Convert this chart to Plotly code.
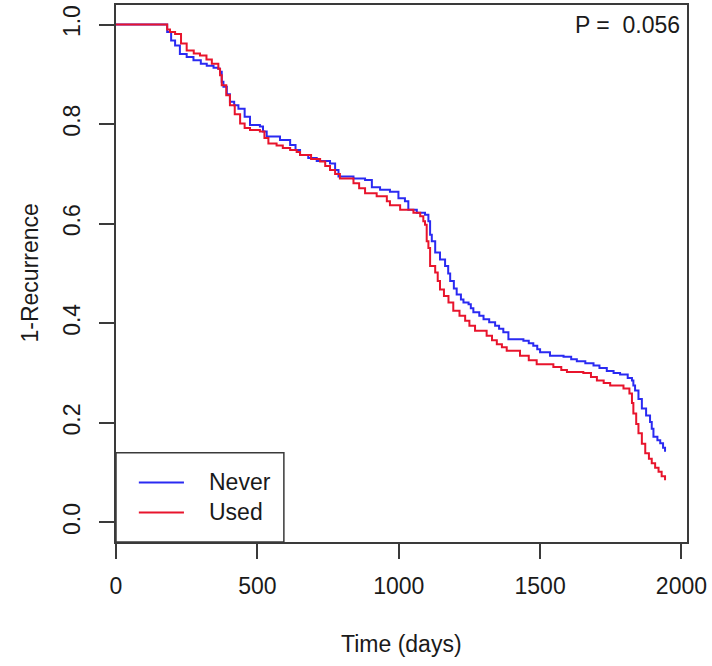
import plotly.graph_objects as go

# ---- data ----
never_t = [0, 181, 195, 209, 226, 250, 274, 300, 321, 345, 362, 368, 374, 380, 392, 403, 418, 433, 455, 474,
           509, 520, 533, 580, 616, 635, 651, 680, 710, 757, 775, 787, 840, 881, 905, 934, 969, 999, 1022, 1034,
           1064, 1093, 1105, 1111, 1117, 1129, 1146, 1164, 1175, 1182, 1195, 1205, 1220, 1229, 1247, 1255, 1264,
           1285, 1300, 1320, 1341, 1355, 1370, 1388, 1441, 1460, 1476, 1490, 1500, 1535, 1583, 1610, 1630, 1660,
           1689, 1710, 1736, 1760, 1783, 1810, 1825, 1830, 1836, 1848, 1860, 1875, 1889, 1895, 1901, 1915, 1925,
           1935, 1942]
never_s = [1.0, 0.985, 0.968, 0.958, 0.941, 0.935, 0.928, 0.921, 0.917, 0.913, 0.911, 0.905, 0.885, 0.875, 0.860,
           0.845, 0.838, 0.831, 0.815, 0.798, 0.795, 0.785, 0.775, 0.768, 0.758, 0.748, 0.738, 0.732, 0.726, 0.721,
           0.708, 0.695, 0.691, 0.688, 0.673, 0.668, 0.664, 0.651, 0.645, 0.628, 0.622, 0.618, 0.605, 0.578, 0.565,
           0.542, 0.528, 0.515, 0.500, 0.485, 0.470, 0.458, 0.448, 0.442, 0.438, 0.430, 0.422, 0.415, 0.408, 0.402,
           0.395, 0.389, 0.382, 0.368, 0.365, 0.360, 0.355, 0.348, 0.342, 0.335, 0.333, 0.328, 0.324, 0.320, 0.315,
           0.310, 0.304, 0.300, 0.297, 0.290, 0.285, 0.275, 0.265, 0.248, 0.229, 0.215, 0.202, 0.188, 0.172, 0.165,
           0.159, 0.150, 0.142]

used_t = [0, 181, 191, 209, 230, 250, 275, 297, 320, 339, 362, 368, 374, 390, 403, 420, 439, 455, 474, 509, 525,
          539, 568, 590, 616, 639, 651, 690, 722, 740, 757, 775, 792, 840, 860, 881, 922, 958, 969, 1005, 1052,
          1076, 1087, 1093, 1099, 1105, 1111, 1129, 1138, 1146, 1160, 1176, 1193, 1215, 1235, 1250, 1270, 1311,
          1330, 1347, 1365, 1382, 1429, 1460, 1488, 1547, 1575, 1595, 1653, 1680, 1701, 1725, 1748, 1795, 1816,
          1825, 1830, 1840, 1848, 1860, 1872, 1885, 1895, 1907, 1919, 1930, 1942]
used_s = [1.0, 0.99, 0.985, 0.981, 0.962, 0.948, 0.942, 0.938, 0.930, 0.921, 0.911, 0.898, 0.878, 0.858, 0.838,
          0.820, 0.801, 0.792, 0.788, 0.785, 0.772, 0.761, 0.757, 0.752, 0.748, 0.744, 0.738, 0.730, 0.725, 0.716,
          0.708, 0.700, 0.691, 0.681, 0.671, 0.661, 0.655, 0.645, 0.637, 0.628, 0.622, 0.615, 0.605, 0.598, 0.565,
          0.551, 0.515, 0.502, 0.485, 0.468, 0.455, 0.442, 0.425, 0.415, 0.405, 0.395, 0.385, 0.375, 0.366, 0.358,
          0.352, 0.345, 0.335, 0.326, 0.318, 0.312, 0.306, 0.302, 0.300, 0.292, 0.285, 0.280, 0.275, 0.269, 0.259,
          0.240, 0.219, 0.198, 0.179, 0.158, 0.139, 0.128, 0.119, 0.110, 0.102, 0.093, 0.085]

x_ticks = [0, 500, 1000, 1500, 2000]
y_ticks = [0.0, 0.2, 0.4, 0.6, 0.8, 1.0]
y_ticklabels = ["0.0", "0.2", "0.4", "0.6", "0.8", "1.0"]
series_names = ["Never", "Used"]
p_text = "P =  0.056"

BLUE = "#2a2af2"
RED = "#e8142c"
AXC = "#3a3a3a"
TXT = "#1a1a1a"
FONT = "Liberation Sans, Arial, sans-serif"
FS = 23

fig = go.Figure()
fig.add_trace(go.Scatter(x=never_t, y=never_s, mode="lines", line=dict(color=BLUE, width=2, shape="hv"),
                         name=series_names[0], showlegend=False))
fig.add_trace(go.Scatter(x=used_t, y=used_s, mode="lines", line=dict(color=RED, width=2, shape="hv"),
                         name=series_names[1], showlegend=False))

xmax = max(never_t + used_t) * 1.04

fig.update_layout(
    width=712, height=666,
    margin=dict(l=116, r=25, t=3, b=124, pad=0),
    paper_bgcolor="white", plot_bgcolor="white",
    font=dict(family=FONT, size=FS, color=TXT),
    xaxis=dict(range=[0, xmax], tickvals=x_ticks, ticks="outside", ticklen=15, tickwidth=1.5, tickcolor=AXC,
               showline=True, mirror=True, linecolor=AXC, linewidth=1.5, showgrid=False, zeroline=False,
               tickfont=dict(size=FS, color=TXT), ticklabelstandoff=8),
    yaxis=dict(range=[-0.0392, 1.0392], tickvals=y_ticks, ticktext=y_ticklabels, tickangle=-90,
               ticks="outside", ticklen=15, tickwidth=1.5, tickcolor=AXC,
               showline=True, mirror=True, linecolor=AXC, linewidth=1.5, showgrid=False, zeroline=False,
               tickfont=dict(size=FS, color=TXT), ticklabelstandoff=10),
)

# axis titles
fig.add_annotation(text="Time (days)", xref="paper", yref="paper", x=0.5, y=0, yshift=-102,
                   showarrow=False, xanchor="center", yanchor="middle", font=dict(size=FS, color=TXT))
fig.add_annotation(text="1-Recurrence", xref="paper", yref="paper", x=0, y=0.5, xshift=-87,
                   textangle=-90, showarrow=False, xanchor="center", yanchor="middle",
                   font=dict(size=FS, color=TXT))

# P value
fig.add_annotation(text=p_text, xref="x", yref="y", x=2002, y=1.0, showarrow=False,
                   xanchor="right", yanchor="middle", font=dict(size=FS, color=TXT))

# legend box
lx1 = 0.294
ly1 = 0.166
fig.add_shape(type="rect", xref="paper", yref="paper", x0=0, x1=lx1, y0=0, y1=ly1,
              line=dict(color=AXC, width=1.5), fillcolor="white", layer="above")
row_y = [0.111, 0.055]
row_col = [BLUE, RED]
for yy, col, nm in zip(row_y, row_col, series_names):
    fig.add_shape(type="line", xref="paper", yref="paper", x0=0.040, x1=0.119, y0=yy, y1=yy,
                  line=dict(color=col, width=2), layer="above")
    fig.add_annotation(text=nm, xref="paper", yref="paper", x=0.160, y=yy, showarrow=False,
                       xanchor="left", yanchor="middle", font=dict(size=FS, color=TXT))

fig.write_html("out.html", config={"displayModeBar": False},
               post_script="document.body.style.margin='0';document.body.style.overflow='hidden';")
